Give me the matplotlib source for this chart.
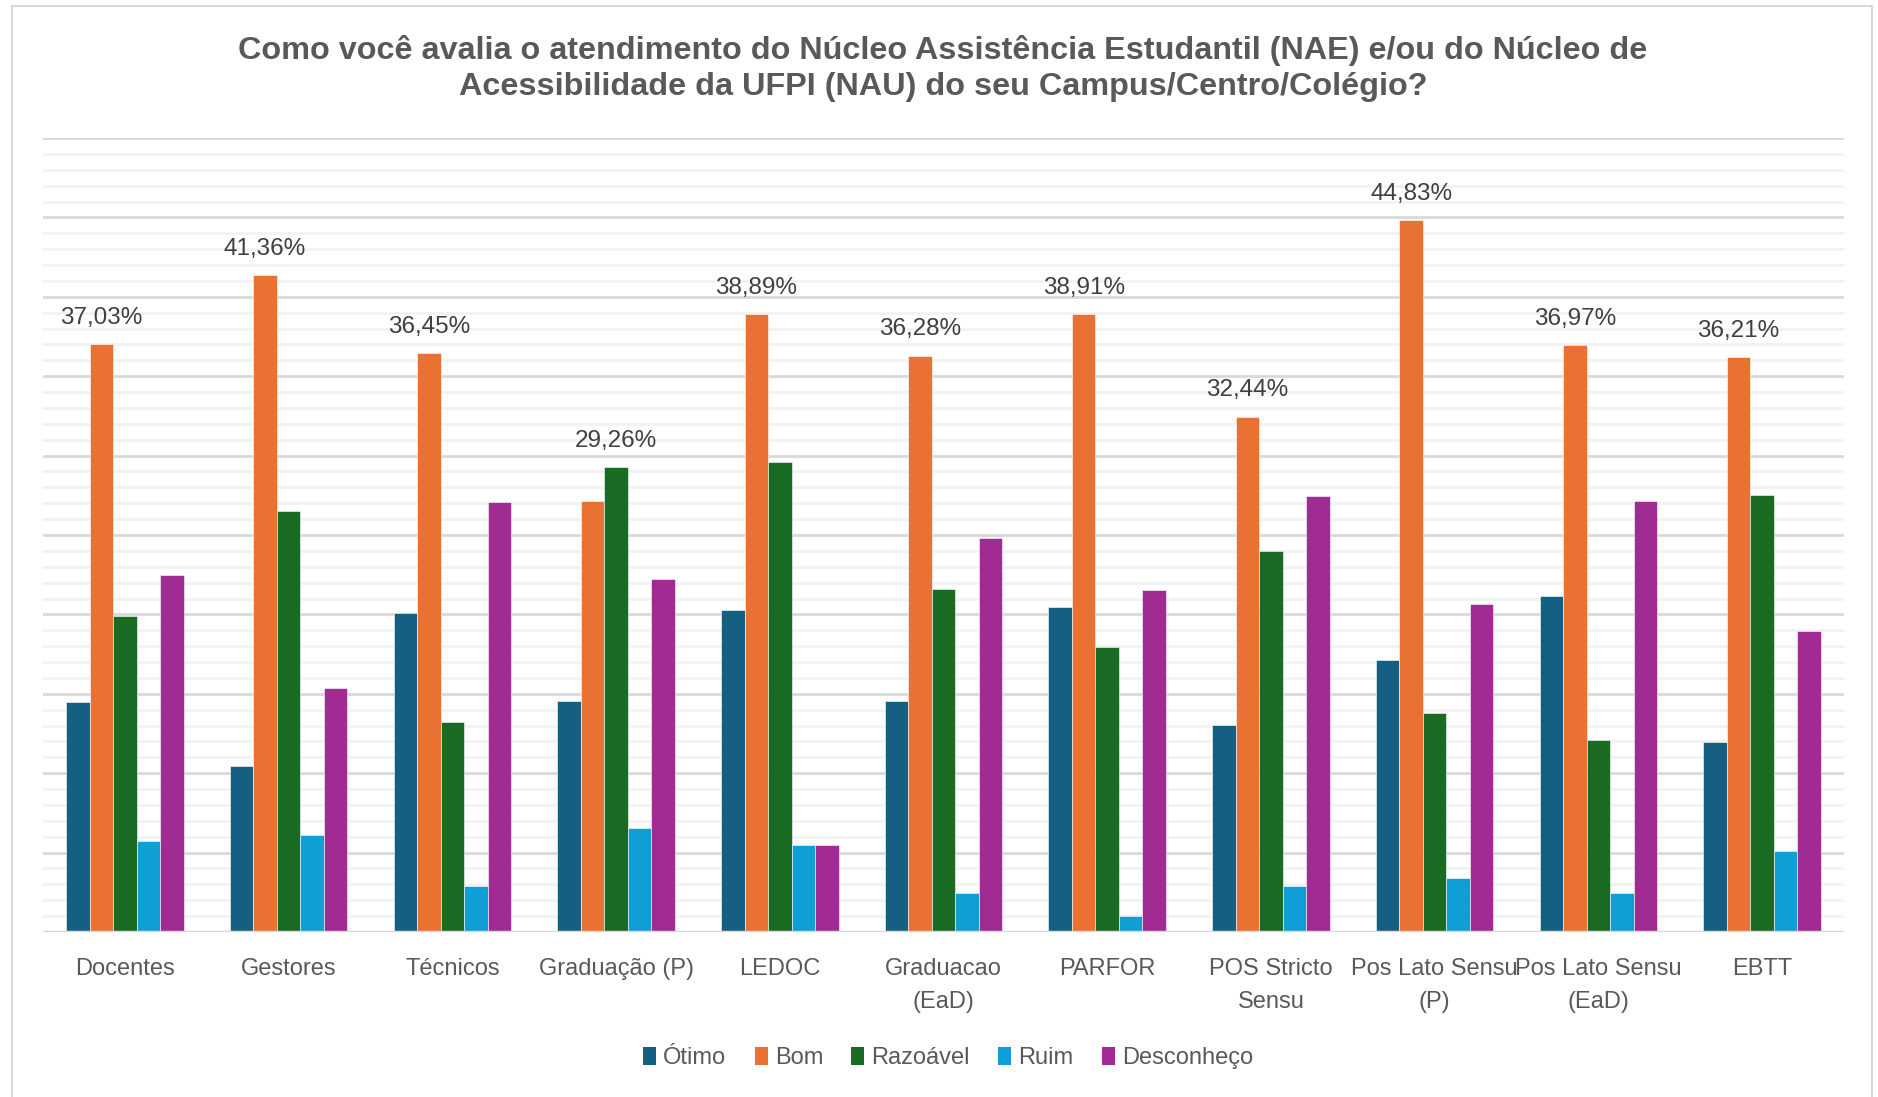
import matplotlib
matplotlib.use("Agg")
import matplotlib.pyplot as plt
from matplotlib.lines import Line2D
from matplotlib.patches import Patch
import numpy as np

categories = ["Docentes", "Gestores", "Técnicos", "Graduação (P)", "LEDOC",
              "Graduacao\n(EaD)", "PARFOR", "POS Stricto\nSensu",
              "Pos Lato Sensu\n(P)", "Pos Lato Sensu\n(EaD)", "EBTT"]
series_names = ["Ótimo", "Bom", "Razoável", "Ruim", "Desconheço"]

otimo      = [14.48, 10.45, 20.11, 14.55, 20.27, 14.55, 20.47, 13.04, 17.14, 21.17, 11.98]
bom        = [37.03, 41.36, 36.45, 27.14, 38.89, 36.28, 38.91, 32.44, 44.83, 36.97, 36.21]
razoavel   = [19.91, 26.50, 13.22, 29.26, 29.57, 21.62, 17.97, 24.00, 13.78, 12.07, 27.50]
ruim       = [5.72, 6.08, 2.88, 6.55, 5.47, 2.45, 0.99, 2.88, 3.42, 2.45, 5.09]
desconheco = [22.50, 15.38, 27.05, 22.25, 5.47, 24.84, 21.53, 27.43, 20.63, 27.14, 18.94]

colors = ["#156082", "#E97132", "#196B24", "#0F9ED5", "#A02B93"]

W, H = 1878, 1097
fig = plt.figure(figsize=(W / 100, H / 100), dpi=100)
fig.patch.set_facecolor("white")

FONT = "Liberation Sans"
GRAY = "#595959"

# outer frame
for xs, ys in [([12 / W, 12 / W], [0, 1 - 6 / H]),
               ([12 / W, 1872 / W], [1 - 6 / H, 1 - 6 / H]),
               ([1872 / W, 1872 / W], [1 - 6 / H, 0])]:
    fig.add_artist(Line2D(xs, ys, color="#D9D9D9", lw=1.5, transform=fig.transFigure))

ax = fig.add_axes([43 / W, 1 - 932 / H, (1844 - 43) / W, (932 - 138) / H])
ax.set_xlim(-0.5, len(categories) - 0.5)
ax.set_ylim(0, 50)

# gridlines
for v in range(1, 51):
    if v % 5 == 0:
        ax.axhline(v, color="#D9D9D9", lw=2.0, zorder=0)
    else:
        ax.axhline(v, color="#F2F2F2", lw=2.0, zorder=0)
ax.axhline(0, color="#D9D9D9", lw=2.5, zorder=3)

series = [otimo, bom, razoavel, ruim, desconheco]
x = np.arange(len(categories))
bw = 0.1435
for i, (vals, c) in enumerate(zip(series, colors)):
    ax.bar(x + (i - 2) * bw, vals, width=bw, color=c, edgecolor="white",
           linewidth=0.4, zorder=2)

# data labels on the tallest bar in each group
for j in range(len(categories)):
    vals = [s[j] for s in series]
    k = int(np.argmax(vals))
    v = vals[k]
    ax.annotate(f"{v:.2f}%".replace(".", ","), (x[j] + (k - 2) * bw, v),
                xytext=(0, 19), textcoords="offset points", ha="center",
                va="center", fontsize=17.5, color="#404040", family=FONT)

for s in ax.spines.values():
    s.set_visible(False)
ax.set_yticks([])
ax.set_xticks(x)
ax.set_xticklabels(categories, fontsize=17, color=GRAY, family=FONT,
                   linespacing=1.6)
ax.tick_params(axis="x", length=0, pad=19)

fig.text(943 / W, 1 - 50 / H,
         "Como você avalia o atendimento do Núcleo Assistência Estudantil (NAE) e/ou do Núcleo de",
         ha="center", va="center", fontsize=23.3, fontweight="bold", color=GRAY, family=FONT)
fig.text(943 / W, 1 - 87 / H,
         "Acessibilidade da UFPI (NAU) do seu Campus/Centro/Colégio?",
         ha="center", va="center", fontsize=23.3, fontweight="bold", color=GRAY, family=FONT)

handles = [Patch(facecolor=c, edgecolor="none") for c in colors]
leg = fig.legend(handles, series_names, loc="center", bbox_to_anchor=(948 / W, 1 - 1058 / H),
                 ncol=5, frameon=False, handlelength=0.55, handleheight=0.8,
                 handletextpad=0.3, columnspacing=1.2,
                 prop={"family": FONT, "size": 17})
for t in leg.get_texts():
    t.set_color(GRAY)

fig.savefig("out.png", dpi=100, facecolor="white")
